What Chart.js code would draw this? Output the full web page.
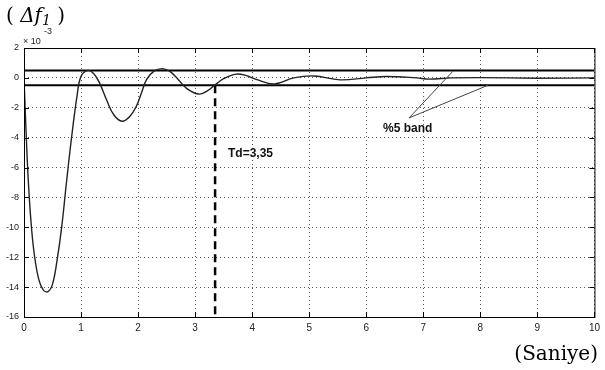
<!DOCTYPE html>
<html>
<head>
<meta charset="utf-8">
<script src="https://cdn.jsdelivr.net/npm/chart.js@4.4.1/dist/chart.umd.min.js"></script>
<style>
  html, body { margin: 0; padding: 0; background: #fff; }
  #wrap { width: 605px; height: 370px; }
</style>
</head>
<body>
<div id="wrap"><canvas id="freqChart" width="605" height="370"></canvas></div>
<script>
// time (s) and frequency deviation (x10^-3)
const timeSec = [0, 0.03, 0.07, 0.12, 0.18, 0.26, 0.34, 0.42, 0.50, 0.58, 0.66, 0.75, 0.84, 0.93, 1.00,
  1.12, 1.22, 1.32, 1.45, 1.58, 1.72, 1.85, 1.97, 2.06, 2.15, 2.28, 2.42, 2.55, 2.68,
  2.85, 3.06, 3.20, 3.35, 3.50, 3.72, 3.90, 4.07, 4.39, 4.73, 5.08, 5.54, 6.00, 6.35,
  6.88, 7.10, 7.50, 8.00, 9.00, 10.0];
const deltaF = [0, -3, -6.5, -9.5, -11.8, -13.5, -14.2, -14.3, -13.8, -12.2, -10, -6.8, -3.8, -1.2, 0.1,
  0.5, 0.3, -0.3, -1.5, -2.5, -2.9, -2.6, -1.9, -1.0, -0.1, 0.45, 0.62, 0.45, 0.0,
  -0.7, -1.08, -0.9, -0.47, -0.05, 0.25, 0.15, -0.1, -0.4, 0, 0.13, -0.13, 0, 0.09,
  0, -0.08, 0, 0.02, -0.02, 0];

const bandLimit = 0.5;          // %5 band
const tdTime = 3.35;            // Td=3,35
const xTicks = [0, 1, 2, 3, 4, 5, 6, 7, 8, 9, 10];
const yTicks = [2, 0, -2, -4, -6, -8, -10, -12, -14, -16];
// annotation arrow: text anchor and the two band points it points to
const arrowFrom = { x: 6.75, y: -2.68 };
const arrowTo = [{ x: 7.52, y: 0.45 }, { x: 8.13, y: -0.5 }];

const curve = timeSec.map((t, i) => ({ x: t, y: deltaF[i] }));

const overlay = {
  id: 'overlay',
  afterDraw(chart) {
    const { ctx, chartArea: a, scales: { x, y } } = chart;
    ctx.save();
    ctx.strokeStyle = '#000';
    ctx.lineWidth = 1;
    ctx.strokeRect(a.left + 0.5, a.top + 0.5, a.right - a.left, a.bottom - a.top);
    ctx.beginPath();
    xTicks.forEach(v => {
      const px = Math.round(x.getPixelForValue(v)) + 0.5;
      ctx.moveTo(px, a.bottom); ctx.lineTo(px, a.bottom - 5);
      ctx.moveTo(px, a.top); ctx.lineTo(px, a.top + 5);
    });
    yTicks.forEach(v => {
      const py = Math.round(y.getPixelForValue(v)) + 0.5;
      ctx.moveTo(a.left, py); ctx.lineTo(a.left + 5, py);
      ctx.moveTo(a.right, py); ctx.lineTo(a.right - 5, py);
    });
    ctx.stroke();

    // arrows of "%5 band"
    ctx.strokeStyle = '#444';
    ctx.beginPath();
    arrowTo.forEach(p => {
      ctx.moveTo(x.getPixelForValue(arrowFrom.x), y.getPixelForValue(arrowFrom.y));
      ctx.lineTo(x.getPixelForValue(p.x), y.getPixelForValue(p.y));
    });
    ctx.stroke();

    ctx.fillStyle = '#111';
    ctx.font = 'bold 12px "Liberation Sans", Arial, sans-serif';
    ctx.textBaseline = 'alphabetic';
    ctx.fillText('%5 band', 383, 132);
    ctx.fillText('Td=3,35', 228, 157);

    // exponent
    ctx.font = '9px "Liberation Sans", Arial, sans-serif';
    ctx.fillStyle = '#222';
    ctx.fillText('\u00d7 10', 23, 44);
    ctx.fillText('-3', 44, 34);

    // title ( Δf1 )
    ctx.fillStyle = '#000';
    let cx = 6;
    ctx.font = '20px "DejaVu Serif", serif';
    ctx.fillText('(', cx, 22); cx += ctx.measureText('( ').width;
    ctx.font = 'italic 20px "DejaVu Serif", serif';
    ctx.fillText('\u0394f', cx, 22); cx += ctx.measureText('\u0394f').width;
    ctx.font = 'italic 14px "DejaVu Serif", serif';
    ctx.fillText('1', cx, 25); cx += ctx.measureText('1').width;
    ctx.font = '20px "DejaVu Serif", serif';
    cx += ctx.measureText(' ').width;
    ctx.fillText(')', cx, 22);

    ctx.font = '20px "DejaVu Serif", serif';
    ctx.textAlign = 'right';
    ctx.fillText('(Saniye)', 598, 360);
    ctx.restore();
  }
};

const ctx = document.getElementById('freqChart').getContext('2d');
new Chart(ctx, {
  type: 'line',
  data: {
    datasets: [
      {
        data: curve,
        borderColor: '#222',
        borderWidth: 1.4,
        pointRadius: 0,
        tension: 0.4,
        fill: false
      },
      {
        data: [{ x: 0, y: bandLimit }, { x: 10, y: bandLimit }],
        borderColor: '#000',
        borderWidth: 2,
        pointRadius: 0
      },
      {
        data: [{ x: 0, y: -bandLimit }, { x: 10, y: -bandLimit }],
        borderColor: '#000',
        borderWidth: 2,
        pointRadius: 0
      },
      {
        data: [{ x: tdTime, y: -bandLimit }, { x: tdTime, y: -16 }],
        borderColor: '#000',
        borderWidth: 2.5,
        borderDash: [8, 5],
        pointRadius: 0
      }
    ]
  },
  options: {
    responsive: false,
    animation: false,
    layout: { padding: { top: 48, right: 5, left: 0, bottom: 0 } },
    plugins: { legend: { display: false }, title: { display: false }, tooltip: { enabled: false } },
    scales: {
      x: {
        type: 'linear',
        min: 0, max: 10,
        afterFit: s => { s.height = 53; },
        afterBuildTicks: s => { s.ticks = xTicks.map(v => ({ value: v })); },
        grid: { color: '#555', lineWidth: 1, drawTicks: false },
        border: { display: false, dash: [1, 3] },
        ticks: { padding: 5, color: '#222', font: { family: '"Liberation Sans", Arial', size: 10 }, maxRotation: 0 }
      },
      y: {
        min: -16, max: 2,
        afterFit: s => { s.width = 24; },
        afterBuildTicks: s => { s.ticks = yTicks.map(v => ({ value: v })); },
        grid: { color: '#555', lineWidth: 1, drawTicks: false },
        border: { display: false, dash: [1, 3] },
        ticks: { padding: 5, color: '#222', font: { family: '"Liberation Sans", Arial', size: 9 } }
      }
    }
  },
  plugins: [overlay]
});
</script>
</body>
</html>
